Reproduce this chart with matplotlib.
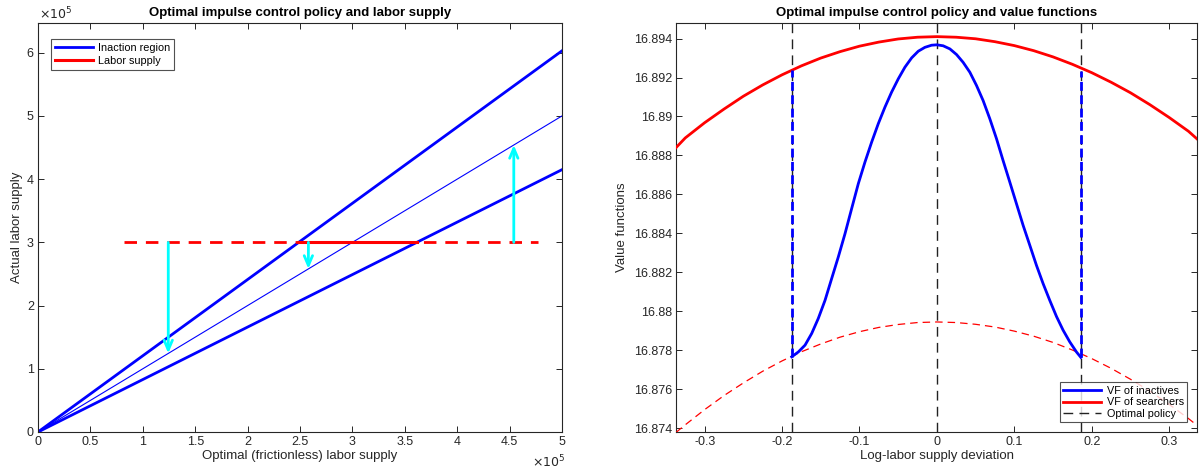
import numpy as np
import matplotlib
matplotlib.use("Agg")
import matplotlib.pyplot as plt
from matplotlib.ticker import FuncFormatter, FixedLocator
from matplotlib.lines import Line2D

plt.rcParams['font.family'] = ['Liberation Sans', 'DejaVu Sans']

# ---------------- Left panel data ----------------
x_endpoints = [0, 5.0e5]
upper_band = [0, 6.03e5]
frictionless = [0, 5.0e5]
lower_band = [0, 4.15e5]
labor_supply = 3.0e5
labor_dash_x = [0.82e5, 4.77e5]
labor_solid_x = [2.49e5, 3.62e5]
arrow_x = [1.243e5, 2.58e5, 4.54e5]
arrow_from = [3.0e5, 3.0e5, 3.0e5]
arrow_to = [1.243e5, 2.58e5, 4.54e5]
left_xticks = [0, 0.5e5, 1e5, 1.5e5, 2e5, 2.5e5, 3e5, 3.5e5, 4e5, 4.5e5, 5e5]
left_yticks = [0, 1e5, 2e5, 3e5, 4e5, 5e5, 6e5]

# ---------------- Right panel data ----------------
red_x = [-0.337, -0.325, -0.3, -0.275, -0.25, -0.225, -0.2, -0.175, -0.15, -0.125, -0.1,
         -0.075, -0.05, -0.025, 0.0, 0.025, 0.05, 0.075, 0.1, 0.125, 0.15, 0.175, 0.2,
         0.225, 0.25, 0.275, 0.3, 0.325, 0.336]
vf_searchers = [16.88840, 16.88890, 16.88968, 16.89038, 16.89104, 16.89162, 16.89214,
                16.89260, 16.89300, 16.89333, 16.89361, 16.89382, 16.89398, 16.89407,
                16.89410, 16.89407, 16.89399, 16.89384, 16.89364, 16.89338, 16.89306,
                16.89268, 16.89225, 16.89176, 16.89122, 16.89061, 16.88995, 16.88924,
                16.88885]
vf_searchers_low = [16.87378, 16.87417, 16.87495, 16.87567, 16.87632, 16.87692, 16.87745,
                    16.87792, 16.87832, 16.87867, 16.87895, 16.87917, 16.87932, 16.87942,
                    16.87945, 16.87942, 16.87933, 16.87919, 16.87898, 16.87872, 16.87840,
                    16.87801, 16.87757, 16.87707, 16.87651, 16.87590, 16.87522, 16.87449,
                    16.87414]
blue_x = [-0.1875, -0.1790, -0.1703, -0.1617, -0.1532, -0.1445, -0.1359, -0.1274, -0.1187,
          -0.1101, -0.1015, -0.0929, -0.0843, -0.0757, -0.0671, -0.0585, -0.0499, -0.0413,
          -0.0326, -0.0241, -0.0155, -0.0068, 0.0, 0.0081, 0.0168, 0.0254, 0.0339, 0.0426,
          0.0512, 0.0597, 0.0684, 0.0770, 0.0855, 0.0942, 0.1028, 0.1114, 0.1200, 0.1286,
          0.1372, 0.1458, 0.1545, 0.1630, 0.1716, 0.1803, 0.1860]
vf_inactives = [16.87766, 16.87791, 16.87826, 16.87886, 16.87963, 16.88056, 16.88168,
                16.88278, 16.88398, 16.88527, 16.88655, 16.88766, 16.88868, 16.88963,
                16.89048, 16.89125, 16.89193, 16.89253, 16.89301, 16.89335, 16.89355,
                16.89366, 16.89368, 16.89363, 16.89347, 16.89318, 16.89278, 16.89227,
                16.89159, 16.89082, 16.88988, 16.88886, 16.88774, 16.88663, 16.88552,
                16.88441, 16.88339, 16.88236, 16.88142, 16.88056, 16.87973, 16.87903,
                16.87843, 16.87791, 16.87763]
policy_x = [-0.1875, 0.0, 0.186]
band_x = [-0.1875, 0.186]
band_low = [16.87766, 16.87763]
band_high = [16.89240, 16.89236]
right_xticks = [-0.3, -0.2, -0.1, 0, 0.1, 0.2, 0.3]
right_yticks = [16.874, 16.876, 16.878, 16.88, 16.882, 16.884, 16.886, 16.888, 16.89,
                16.892, 16.894]

fig = plt.figure(figsize=(12.02, 4.72), dpi=100)
W, H = 1202, 472
ax1 = fig.add_axes([38 / W, (H - 432) / H, (562 - 38) / W, (432 - 23) / H])
ax2 = fig.add_axes([676 / W, (H - 432) / H, (1197 - 676) / W, (432 - 23) / H])

tick_fs = 9
for ax in (ax1, ax2):
    ax.tick_params(direction='in', length=4, width=0.7, top=True, right=True,
                   labelsize=tick_fs, colors='#262626', pad=3)
    for s in ax.spines.values():
        s.set_linewidth(0.8)
        s.set_color('#262626')

# ---------------- Left panel ----------------
ax1.plot(x_endpoints, upper_band, color='#0000ff', lw=2.0, label='Inaction region')
ax1.plot(x_endpoints, lower_band, color='#0000ff', lw=2.0)
ax1.plot(x_endpoints, frictionless, color='#0000ff', lw=0.8)
ax1.plot(labor_dash_x, [labor_supply, labor_supply], color='#ff0000', lw=2.0,
         dashes=(4.5, 3.2))
ax1.plot(labor_solid_x, [labor_supply, labor_supply], color='#ff0000', lw=2.2,
         label='Labor supply')
for xa, y0, y1 in zip(arrow_x, arrow_from, arrow_to):
    ax1.annotate('', xy=(xa, y1), xytext=(xa, y0),
                 arrowprops=dict(arrowstyle='->,head_length=0.7,head_width=0.3',
                                 color='#00ffff', lw=2.0, shrinkA=0, shrinkB=0))
ax1.set_xlim(0, 5e5)
ax1.set_ylim(0, 6.47e5)
ax1.xaxis.set_major_locator(FixedLocator(left_xticks))
ax1.yaxis.set_major_locator(FixedLocator(left_yticks))
ax1.xaxis.set_major_formatter(FuncFormatter(lambda v, p: '%g' % round(v / 1e5, 3)))
ax1.yaxis.set_major_formatter(FuncFormatter(lambda v, p: '%g' % round(v / 1e5, 3)))
ax1.set_xlabel('Optimal (frictionless) labor supply', fontsize=9.5, labelpad=1,
               color='#262626')
ax1.set_ylabel('Actual labor supply', fontsize=9.5, labelpad=3, color='#262626')
ax1.set_title('Optimal impulse control policy and labor supply', fontsize=9.5,
              fontweight='bold', pad=5)
fig.text(39 / W, 1 - 14 / H, r'$\times10^5$', fontsize=9, ha='left', va='center',
         color='#262626')
fig.text(565 / W, 1 - 462 / H, r'$\times10^5$', fontsize=9, ha='right', va='center',
         color='#262626')
leg1 = ax1.legend(loc='upper left', fontsize=7.8, frameon=True, fancybox=False,
                  edgecolor='#262626', handlelength=3.5, borderpad=0.35,
                  labelspacing=0.3, handletextpad=0.5, borderaxespad=0,
                  bbox_to_anchor=(0.025, 0.961))
leg1.get_frame().set_linewidth(0.8)

# ---------------- Right panel ----------------
for px in policy_x:
    ax2.axvline(px, color='#222222', lw=1.0, dashes=(7, 4.5), zorder=2)
ax2.plot(red_x, vf_searchers_low, color='#ff0000', lw=0.9, dashes=(6, 4), zorder=3)
ax2.plot(red_x, vf_searchers, color='#ff0000', lw=2.0, zorder=3)
ax2.plot(blue_x, vf_inactives, color='#0000ff', lw=2.0, zorder=4)
for bx, bl, bh in zip(band_x, band_low, band_high):
    ax2.plot([bx, bx], [bl, bh], color='#0000ff', lw=2.0, dashes=(3.2, 1.6), zorder=4)
ax2.set_xlim(-0.337, 0.336)
ax2.set_ylim(16.8738, 16.8948)
ax2.xaxis.set_major_locator(FixedLocator(right_xticks))
ax2.yaxis.set_major_locator(FixedLocator(right_yticks))
ax2.xaxis.set_major_formatter(FuncFormatter(lambda v, p: '%g' % round(v, 3)))
ax2.yaxis.set_major_formatter(FuncFormatter(lambda v, p: '%g' % round(v, 4)))
ax2.set_xlabel('Log-labor supply deviation', fontsize=9.5, labelpad=1, color='#262626')
ax2.set_ylabel('Value functions', fontsize=9.5, labelpad=4, color='#262626')
ax2.set_title('Optimal impulse control policy and value functions', fontsize=9.5,
              fontweight='bold', pad=5)
handles = [Line2D([], [], color='#0000ff', lw=2.0),
           Line2D([], [], color='#ff0000', lw=2.0),
           Line2D([], [], color='#222222', lw=1.0, dashes=(7, 4.5))]
leg2 = ax2.legend(handles, ['VF of inactives', 'VF of searchers', 'Optimal policy'],
                  loc='lower right', fontsize=7.8, frameon=True, fancybox=False,
                  edgecolor='#262626', handlelength=3.5, borderpad=0.3,
                  labelspacing=0.15, handletextpad=0.5, borderaxespad=0,
                  bbox_to_anchor=(0.981, 0.024))
leg2.get_frame().set_linewidth(0.8)
leg2.set_zorder(10)

fig.savefig('out.png', dpi=100)
